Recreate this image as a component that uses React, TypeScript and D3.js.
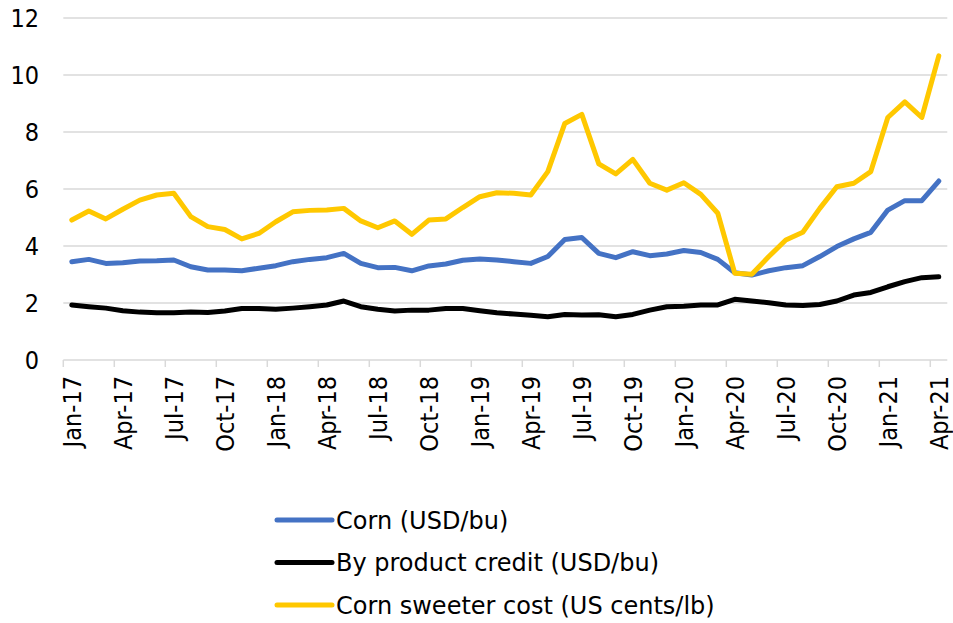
import React, { useEffect, useRef } from "react";
import * as d3 from "d3";

// monthly, Jan-17 .. Apr-21
const months = d3.timeMonth.range(new Date(2017, 0, 1), new Date(2021, 4, 1));

const corn = [
  3.45, 3.53, 3.39, 3.41, 3.47, 3.48, 3.51, 3.27, 3.16, 3.16, 3.13, 3.22, 3.31,
  3.45, 3.53, 3.59, 3.74, 3.39, 3.24, 3.25, 3.13, 3.3, 3.37, 3.5, 3.54, 3.51,
  3.45, 3.39, 3.63, 4.23, 4.3, 3.74, 3.59, 3.8, 3.66, 3.72, 3.84, 3.77, 3.53,
  3.06, 2.98, 3.13, 3.24, 3.31, 3.63, 3.98, 4.25, 4.48, 5.26, 5.59, 5.59, 6.28,
];

const byProduct = [
  1.93, 1.87, 1.82, 1.73, 1.68, 1.66, 1.66, 1.68, 1.67, 1.72, 1.81, 1.81, 1.78,
  1.82, 1.87, 1.93, 2.07, 1.87, 1.78, 1.72, 1.75, 1.75, 1.81, 1.81, 1.73, 1.66,
  1.61, 1.57, 1.52, 1.6, 1.58, 1.59, 1.52, 1.6, 1.75, 1.87, 1.89, 1.93, 1.93,
  2.13, 2.07, 2.01, 1.93, 1.91, 1.95, 2.07, 2.28, 2.37, 2.57, 2.75, 2.89, 2.92,
];

const sweetener = [
  4.91, 5.23, 4.95, 5.29, 5.61, 5.79, 5.85, 5.03, 4.68, 4.58, 4.25, 4.44, 4.85,
  5.2, 5.25, 5.26, 5.32, 4.88, 4.64, 4.88, 4.41, 4.91, 4.95, 5.35, 5.73, 5.87,
  5.85, 5.79, 6.61, 8.3, 8.62, 6.88, 6.53, 7.04, 6.2, 5.96, 6.22, 5.81, 5.15,
  3.04, 3.01, 3.63, 4.21, 4.48, 5.32, 6.08, 6.2, 6.61, 8.51, 9.06, 8.51, 10.67,
];

const series = [
  { name: "Corn (USD/bu)", values: corn, color: "#4472C4" },
  { name: "By product credit (USD/bu)", values: byProduct, color: "#000000" },
  { name: "Corn sweeter cost (US cents/lb)", values: sweetener, color: "#FFC800" },
];

const yTicks = [0, 2, 4, 6, 8, 10, 12];

const W = 953;
const H = 623;
const FONT = "'DejaVu Sans Condensed', 'DejaVu Sans', sans-serif";
const LEGEND_FONT = "'DejaVu Sans', sans-serif";

export default function App() {
  const ref = useRef<SVGSVGElement>(null);

  useEffect(() => {
    const svg = d3.select(ref.current);
    svg.selectAll("*").remove();

    const x = d3
      .scaleBand<number>()
      .domain(d3.range(months.length))
      .range([63.3, 947.3]);
    const y = d3.scaleLinear().domain([0, 12]).range([360, 18]);
    const fmt = d3.timeFormat("%b-%y");

    // gridlines
    svg
      .append("g")
      .selectAll("line")
      .data(yTicks.filter((d) => d > 0))
      .join("line")
      .attr("x1", x.range()[0])
      .attr("x2", x.range()[1])
      .attr("y1", (d) => y(d))
      .attr("y2", (d) => y(d))
      .attr("stroke", "#d9d9d9")
      .attr("stroke-width", 1.5);

    // y labels
    svg
      .append("g")
      .selectAll("text")
      .data(yTicks)
      .join("text")
      .attr("x", 39)
      .attr("y", (d) => y(d))
      .attr("dy", "0.36em")
      .attr("text-anchor", "end")
      .attr("font-family", FONT)
      .attr("font-size", 25)
      .attr("fill", "#000")
      .text((d) => d);

    // x axis
    const xAxis = svg.append("g");
    xAxis
      .append("line")
      .attr("x1", x.range()[0])
      .attr("x2", x.range()[1])
      .attr("y1", y(0))
      .attr("y2", y(0))
      .attr("stroke", "#d9d9d9")
      .attr("stroke-width", 1.5);

    const quarterIdx = d3.range(0, months.length, 3);
    xAxis
      .selectAll("line.tick")
      .data(quarterIdx)
      .join("line")
      .attr("class", "tick")
      .attr("x1", (i) => x(i)!)
      .attr("x2", (i) => x(i)!)
      .attr("y1", y(0))
      .attr("y2", y(0) + 7)
      .attr("stroke", "#d9d9d9")
      .attr("stroke-width", 1.5);

    xAxis
      .selectAll("text")
      .data(quarterIdx)
      .join("text")
      .attr(
        "transform",
        (i) => `translate(${x(i)! + x.bandwidth() / 2},${y(0) + 16}) rotate(-90)`
      )
      .attr("text-anchor", "end")
      .attr("dy", "0.36em")
      .attr("font-family", FONT)
      .attr("font-size", 25)
      .attr("fill", "#000")
      .text((i) => fmt(months[i]));

    // lines
    const line = d3
      .line<number>()
      .x((_, i) => x(i)! + x.bandwidth() / 2)
      .y((d) => y(d));

    svg
      .append("g")
      .selectAll("path")
      .data(series)
      .join("path")
      .attr("d", (s) => line(s.values))
      .attr("fill", "none")
      .attr("stroke", (s) => s.color)
      .attr("stroke-width", 5)
      .attr("stroke-linejoin", "round")
      .attr("stroke-linecap", "round");

    // legend
    const legend = svg
      .append("g")
      .selectAll("g")
      .data(series)
      .join("g")
      .attr("transform", (_, i) => `translate(277,${520 + i * 42.5})`);
    legend
      .append("line")
      .attr("x1", 0)
      .attr("x2", 55)
      .attr("stroke", (s) => s.color)
      .attr("stroke-width", 5)
      .attr("stroke-linecap", "round");
    legend
      .append("text")
      .attr("x", 59)
      .attr("dy", "0.36em")
      .attr("font-family", LEGEND_FONT)
      .attr("font-size", 24)
      .attr("fill", "#000")
      .text((s) => s.name);
  }, []);

  return (
    <svg
      ref={ref}
      width={W}
      height={H}
      style={{ position: "absolute", left: 0, top: 0, background: "#fff" }}
    />
  );
}
